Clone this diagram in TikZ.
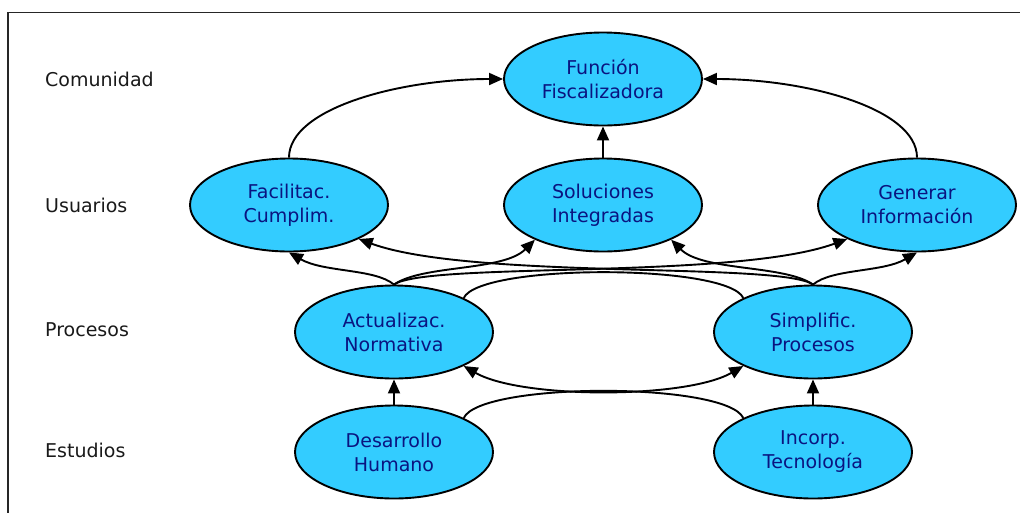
\documentclass[tikz,border=0pt]{standalone}
\usepackage{fontspec}
\setmainfont{DejaVu Sans}
\usetikzlibrary{arrows.meta,shapes.geometric}
\definecolor{cyanfill}{RGB}{51,204,255}
\definecolor{navytext}{RGB}{10,20,128}
\definecolor{labeltext}{RGB}{25,25,25}
\begin{document}
\begin{tikzpicture}[x=1pt,y=1pt,
  bubble/.style={ellipse,draw=black,line width=1.9pt,fill=cyanfill,
    minimum width=198pt,minimum height=93pt,inner sep=0pt,align=center,
    text=navytext,font=\fontsize{19}{24}\selectfont},
  rowlabel/.style={anchor=west,text=labeltext,font=\fontsize{19}{24}\selectfont,inner sep=0pt},
  conn/.style={line width=1.9pt,draw=black},
  arr/.style={conn,-{Triangle[length=14pt,width=12pt]}},
  darr/.style={conn,{Triangle[length=14pt,width=12pt]}-{Triangle[length=14pt,width=12pt]}}
]
\useasboundingbox (0,0) rectangle (1020,-512);
\coordinate (frameTL) at (8,-12.5);
\coordinate (frameBL) at (8,-520);
\coordinate (frameTR) at (1030,-12.5);
\draw[line width=1.8pt,draw=black!85] (frameBL) -- (frameTL) -- (frameTR);

% row labels
\node[rowlabel] (lcom) at (45,-79) {Comunidad};
\node[rowlabel] (lusu) at (45,-205) {Usuarios};
\node[rowlabel] (lpro) at (45,-330) {Procesos};
\node[rowlabel] (lest) at (45,-450) {Estudios};

% nodes
\node[bubble] (fun) at (603,-79) {Función\\Fiscalizadora};
\node[bubble] (fac) at (289,-205) {Facilitac.\\Cumplim.};
\node[bubble] (sol) at (603,-205) {Soluciones\\Integradas};
\node[bubble] (gen) at (917,-205) {Generar\\Información};
\node[bubble] (act) at (394,-332) {Actualizac.\\Normativa};
\node[bubble] (sim) at (813,-332) {Simplific.\\Procesos};
\node[bubble] (des) at (394,-452) {Desarrollo\\Humano};
\node[bubble] (inc) at (813,-452) {Incorp.\\Tecnología};

% top level
\draw[arr] (fac.north) to[out=90,in=180,out distance=49pt,in distance=104pt] (fun.west);
\draw[arr] (gen.north) to[out=90,in=0,out distance=49pt,in distance=104pt] (fun.east);
\draw[arr] (sol.north) -- (fun.south);

% from Actualizac.
\draw[arr] (act.north) to[out=140,in=-30,out distance=25pt,in distance=40pt] (fac.south);
\draw[arr] (act.north) to[out=35,in=-135,out distance=35pt,in distance=45pt] (sol.-153);
\draw[arr] (act.north) to[out=35,in=-160,out distance=40pt,in distance=120pt] (gen.-154);

% from Simplific.
\draw[arr] (sim.north) to[out=40,in=-150,out distance=25pt,in distance=40pt] (gen.south);
\draw[arr] (sim.north) to[out=145,in=-45,out distance=35pt,in distance=45pt] (sol.-27);
\draw[arr] (sim.north) to[out=145,in=-20,out distance=40pt,in distance=120pt] (fac.-26);

% between processes
\draw[conn] (act.26) to[out=65,in=115,out distance=38pt,in distance=38pt] (sim.154);
\draw[darr] (act.-26) to[out=-30,in=-150,out distance=66pt,in distance=66pt] (sim.-154);

% studies
\draw[conn] (des.26) to[out=65,in=115,out distance=40pt,in distance=40pt] (inc.154);
\draw[arr] (des.north) -- (act.south);
\draw[arr] (inc.north) -- (sim.south);
\end{tikzpicture}
\end{document}
